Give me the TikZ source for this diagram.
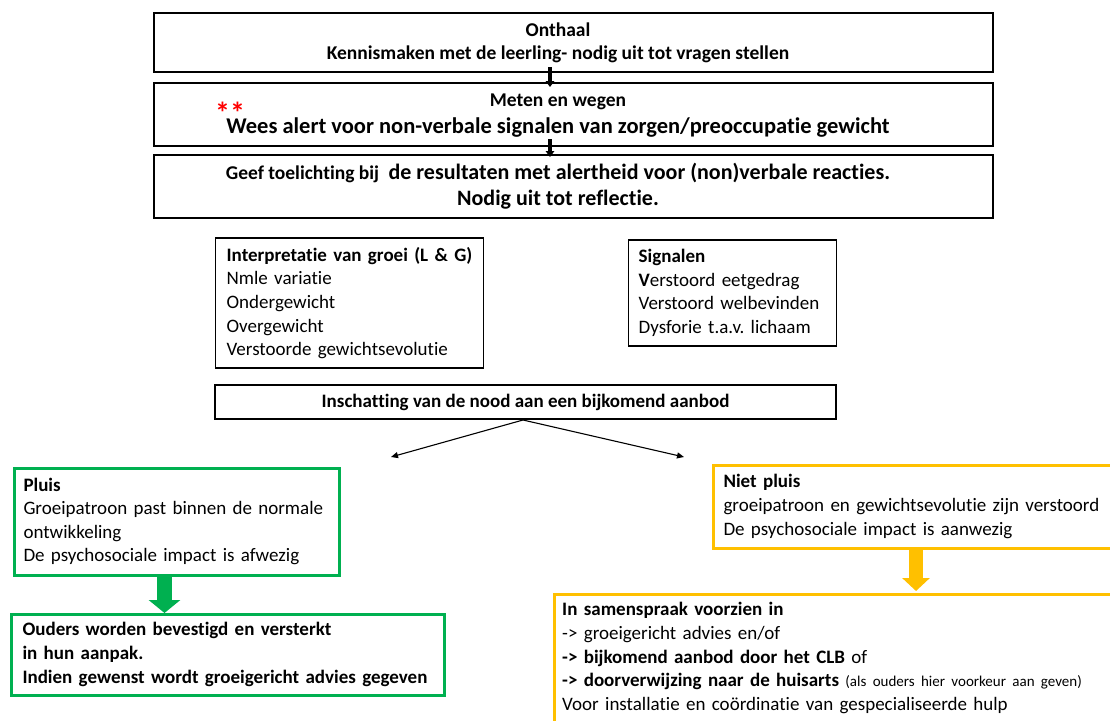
\documentclass[tikz,border=0pt]{standalone}
\usepackage{fontspec}
\setmainfont{Carlito}[Ligatures=NoCommon]
\usetikzlibrary{arrows.meta}
\definecolor{grn}{HTML}{00B050}
\definecolor{ylw}{HTML}{FFC000}
\frenchspacing
\begin{document}
\begin{tikzpicture}[x=1pt,y=-1pt,
  bbox/.style={draw=black, line width=1.3pt, inner sep=0pt},
  gbox/.style={draw=grn, line width=3pt, inner ysep=0pt},
  ybox/.style={draw=ylw, line width=3pt, inner ysep=0pt},
  fnorm/.style={font=\fontsize{19}{23.6}\selectfont},
  karrow/.style={line width=3.4pt, -{Triangle[width=8.5pt,length=6pt]}},
  thinarrow/.style={line width=1.1pt, -{Triangle[width=6pt,length=7pt]}},
]
\fill[white] (0,0) rectangle (1110,720);
\clip (0,0) rectangle (1110,720);

% top boxes
\node[bbox, minimum width=839pt, minimum height=59pt] (b1) at (573.5,42.5) {};
\node[align=center, font=\bfseries\fontsize{19.5}{23}\selectfont] (b1t) at (558,42.5)
  {Onthaal\\Kennismaken met de leerling- nodig uit tot vragen stellen};
\node[bbox, minimum width=839pt, minimum height=63pt] (b2) at (573.5,114.5) {};
\node[align=center, font=\bfseries\fontsize{19.5}{23}\selectfont] (b2t) at (558,115.5)
  {Meten en wegen\\[4pt]{\fontsize{22.5}{26}\selectfont Wees alert voor non-verbale signalen van zorgen/preoccupatie gewicht}};
\node[bbox, minimum width=839pt, minimum height=63pt] (b3) at (573.5,186.5) {};
\node[align=center, font=\bfseries\fontsize{22}{26}\selectfont] (b3t) at (558,186.5)
  {{\fontsize{19.5}{26}\selectfont Geef toelichting bij\ } de resultaten met alertheid voor (non)verbale reacties.\\Nodig uit tot reflectie.};
\node[text=red, font=\bfseries\fontsize{30}{30}\selectfont, inner sep=0pt] (ast) at (230,106) {\smash{\raisebox{-0.57em}{**}}};

% connectors between top boxes
\coordinate (k1a) at (550,67);
\coordinate (k1b) at (550,87);
\coordinate (k2a) at (550,139);
\coordinate (k2b) at (550,157);
\draw[karrow] (k1a) -- (k1b);
\draw[karrow] (k2a) -- (k2b);

% middle boxes
\node[bbox, fnorm, minimum height=130pt, text width=246pt, inner xsep=11pt, align=left, anchor=west] (interp) at (215,303)
  {\textbf{Interpretatie van groei (L \& G)}\\Nmle variatie\\Ondergewicht\\Overgewicht\\Verstoorde gewichtsevolutie};
\node[bbox, fnorm, minimum height=106pt, text width=188pt, inner xsep=10pt, align=left, anchor=west] (sign) at (628,293)
  {\textbf{Signalen}\\\textbf{V}erstoord eetgedrag\\Verstoord welbevinden\\Dysforie t.a.v. lichaam};
\node[bbox, minimum width=621pt, minimum height=34pt, align=center,
      font=\bfseries\fontsize{19}{23}\selectfont] (insch) at (525.5,402)
  {Inschatting van de nood aan een bijkomend aanbod};

\coordinate (apex) at (523,420);
\coordinate (lt) at (391,457);
\coordinate (rt) at (684,457);
\draw[thinarrow] (apex) -- (lt);
\draw[thinarrow] (apex) -- (rt);

% green branch
\node[gbox, fnorm, minimum height=107pt, text width=307pt, inner xsep=9pt, align=left, anchor=west] (pluis) at (13,521.5)
  {\textbf{Pluis}\\Groeipatroon past binnen de normale\\ontwikkeling\\De psychosociale impact is afwezig};
\node[gbox, fnorm, minimum height=81pt, text width=411pt, inner xsep=11pt, align=left, anchor=west] (ouders) at (10,654.5)
  {\textbf{Ouders worden bevestigd en versterkt}\\\textbf{in hun aanpak.}\\\textbf{Indien gewenst wordt groeigericht advies gegeven}};
\coordinate (g1) at (164.5,576);
\coordinate (g2) at (164.5,613);
\draw[grn, line width=15pt, -{Triangle[width=31pt,length=13pt]}] (g1) -- (g2);

% yellow branch
\node[ybox, fnorm, minimum height=83pt, text width=400pt, inner xsep=10pt, align=left, anchor=west] (niet) at (712,506.5)
  {\textbf{Niet pluis}\\groeipatroon en gewichtsevolutie zijn verstoord\\De psychosociale impact is aanwezig};
\node[fnorm, minimum height=126pt, text width=584pt, inner xsep=8pt, inner ysep=0pt, align=left, anchor=west] (samen) at (554,658)
  {\textbf{In samenspraak voorzien in}\\-> groeigericht advies en/of\\\textbf{-> bijkomend aanbod door het CLB} of\\\textbf{-> doorverwijzing naar de huisarts} {\fontsize{15}{18}\selectfont(als ouders hier voorkeur aan geven)}\\Voor installatie en coördinatie van gespecialiseerde hulp};
\draw[ylw, line width=3pt] (samen.south west) -- (samen.north west) -- (samen.north east);
\coordinate (y1) at (916,550);
\coordinate (y2) at (916,591);
\draw[ylw, line width=14pt, -{Triangle[width=27pt,length=13pt]}] (y1) -- (y2);
\end{tikzpicture}
\end{document}
